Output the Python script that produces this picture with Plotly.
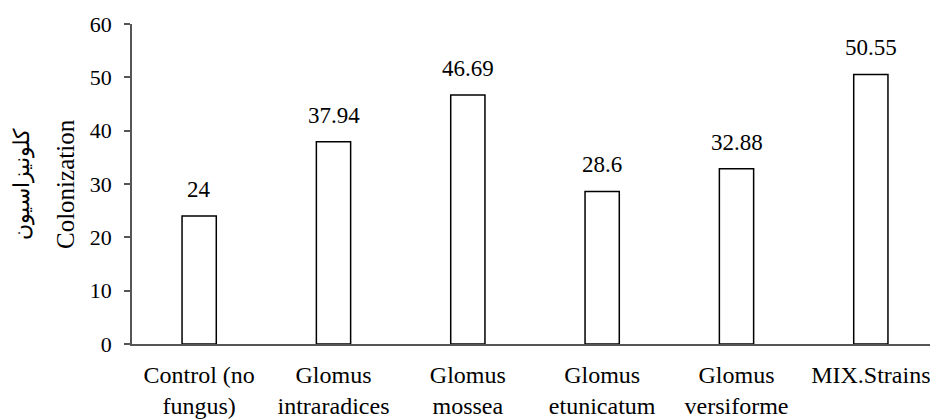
import plotly.graph_objects as go

categories = ["Control (no<br>fungus)", "Glomus<br>intraradices", "Glomus<br>mossea",
              "Glomus<br>etunicatum", "Glomus<br>versiforme", "MIX.Strains"]
values = [24, 37.94, 46.69, 28.6, 32.88, 50.55]
value_labels = ["24", "37.94", "46.69", "28.6", "32.88", "50.55"]
y_title_fa = "کلونیزاسیون"
y_title_en = "Colonization"

FONT = "Liberation Serif"

fig = go.Figure()
fig.add_trace(go.Bar(
    x=categories, y=values,
    marker=dict(color="white", line=dict(color="black", width=1.5)),
    width=0.255,
    hoverinfo="x+y",
))

for c, v, t in zip(categories, values, value_labels):
    fig.add_annotation(x=c, y=v, text=t, showarrow=False, yanchor="bottom",
                       yshift=12, font=dict(family=FONT, size=23, color="black"))

fig.add_annotation(xref="paper", yref="paper", x=0, y=0.5, xshift=-110, text=y_title_fa,
                   textangle=-90, showarrow=False, xanchor="center", yanchor="middle",
                   font=dict(family=FONT, size=22, color="black"))
fig.add_annotation(xref="paper", yref="paper", x=0, y=0.5, xshift=-67, text=y_title_en,
                   textangle=-90, showarrow=False, xanchor="center", yanchor="middle",
                   font=dict(family=FONT, size=25, color="black"))

fig.update_layout(
    template="none",
    width=930, height=411,
    margin=dict(l=124, r=0, t=16, b=75),
    plot_bgcolor="white", paper_bgcolor="white",
    showlegend=False,
    xaxis=dict(showline=True, linecolor="#555555", linewidth=1.5, ticks="",
               tickfont=dict(family=FONT, size=24, color="black"), showgrid=False,
               zeroline=False, ticklabelstandoff=8, range=[-0.5, 5.5]),
    yaxis=dict(range=[0, 60], dtick=10, showline=True, linecolor="#555555", linewidth=1.5,
               ticks="outside", ticklen=6, tickcolor="#555555", tickwidth=1.5,
               showgrid=False, zeroline=False,
               tickfont=dict(family=FONT, size=22, color="black"),
               ticklabelstandoff=8),
)

fig.write_html("out.html")
